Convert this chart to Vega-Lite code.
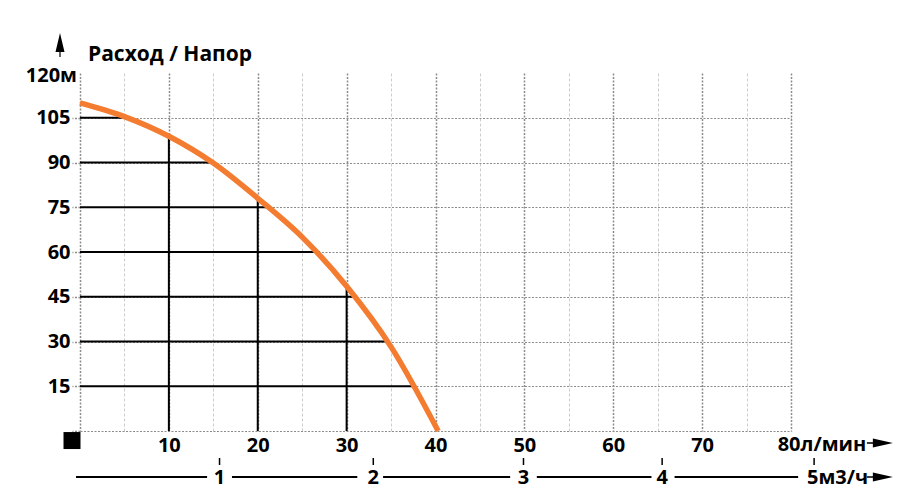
{
  "$schema": "https://vega.github.io/schema/vega-lite/v6.json",
  "width": 711,
  "height": 358,
  "autosize": {"type": "none"},
  "padding": {"left": 80, "top": 73, "right": 124, "bottom": 70},
  "background": "white",
  "config": {"view": {"stroke": null}, "font": "Open Sans"},
  "datasets": {
    "curve": [
      {"x": 0, "y": 110}, {"x": 5, "y": 105.4}, {"x": 10, "y": 98.8}, {"x": 15, "y": 89.8},
      {"x": 20, "y": 78}, {"x": 25, "y": 65}, {"x": 30, "y": 48.5}, {"x": 35, "y": 28.2}, {"x": 40.3, "y": 0}
    ],
    "hrules": [
      {"x": 0, "x2": 5.2, "y": 105}, {"x": 0, "x2": 14.7, "y": 90}, {"x": 0, "x2": 21, "y": 75},
      {"x": 0, "x2": 27, "y": 60}, {"x": 0, "x2": 31, "y": 45}, {"x": 0, "x2": 34.5, "y": 30},
      {"x": 0, "x2": 37.8, "y": 15}
    ],
    "vrules": [
      {"x": 10, "y": 0, "y2": 98.8}, {"x": 20, "y": 0, "y2": 77.5}, {"x": 30, "y": 0, "y2": 48.5}
    ],
    "m3segments": [
      {"x": -0.45, "x2": 14.3, "y": -15.4}, {"x": 17.1, "x2": 31.2, "y": -15.4},
      {"x": 34.1, "x2": 48.4, "y": -15.4}, {"x": 51.4, "x2": 64.3, "y": -15.4},
      {"x": 66.9, "x2": 80.8, "y": -15.4}
    ],
    "m3ticks": [
      {"x": 15.7, "y": -9.05, "y2": -11.4}, {"x": 33.0, "y": -9.05, "y2": -11.4},
      {"x": 49.9, "y": -9.05, "y2": -11.4}, {"x": 65.5, "y": -9.05, "y2": -11.4},
      {"x": 82.6, "y": -9.05, "y2": -11.4}
    ],
    "m3labels": [
      {"x": 15.7, "y": -17.8, "label": "1"}, {"x": 33.0, "y": -17.8, "label": "2"},
      {"x": 49.9, "y": -17.8, "label": "3"}, {"x": 65.5, "y": -17.8, "label": "4"}
    ],
    "leftnotes": [
      {"x": 78.5, "y": -6.7, "label": "80л/мин"},
      {"x": 81.8, "y": -17.8, "label": "5м3/ч"}
    ],
    "ylabeltop": [{"x": -0.34, "y": 117.0, "label": "120м"}],
    "title": [{"x": 0.9, "y": 124.0, "label": "Расход / Напор"}],
    "origin": [{"x": -0.9, "y": -3.2}],
    "uparrow": [{"x": -2.25, "y": 129.4}],
    "rightarrows": [{"x": 90.0, "y": -4.0}, {"x": 90.0, "y": -15.4}]
  },
  "encoding": {
    "x": {
      "field": "x", "type": "quantitative",
      "scale": {"domain": [0, 80], "nice": false, "zero": false},
      "axis": {
        "values": [0, 5, 10, 15, 20, 25, 30, 35, 40, 45, 50, 55, 60, 65, 70, 75, 80],
        "title": null, "domain": false, "ticks": false, "grid": true,
        "gridColor": {"condition": {"test": "datum.value % 10 === 0", "value": "#8c8c8c"}, "value": "#cccccc"},
        "gridDash": {"condition": {"test": "datum.value % 10 === 0", "value": [2, 1.5]}, "value": [3, 2]},
        "gridWidth": {"condition": {"test": "datum.value % 10 === 0", "value": 1.5}, "value": 1},
        "labelExpr": "datum.value % 10 === 0 && datum.value > 0 && datum.value < 80 ? datum.label : ''",
        "labelFont": "Open Sans", "labelFontSize": 20, "labelFontWeight": "bold", "labelColor": "black",
        "labelPadding": 4, "labelFlush": false, "labelOverlap": false
      }
    },
    "y": {
      "field": "y", "type": "quantitative",
      "scale": {"domain": [0, 120], "nice": false, "zero": false},
      "axis": {
        "values": [0, 15, 30, 45, 60, 75, 90, 105],
        "title": null, "domain": false, "ticks": true, "tickSize": 8, "tickColor": "#8c8c8c",
        "tickDash": [2, 1.5], "tickWidth": 1.5,
        "grid": true, "gridColor": "#8c8c8c", "gridDash": [2, 1.5], "gridWidth": 1.2,
        "labelExpr": "datum.value > 0 ? datum.label : ''",
        "labelFont": "Open Sans", "labelFontSize": 20, "labelFontWeight": "bold", "labelColor": "black",
        "labelPadding": 2, "labelFlush": false, "labelOverlap": false
      }
    }
  },
  "layer": [
    {"data": {"name": "hrules"}, "mark": {"type": "rule", "color": "black", "strokeWidth": 2}, "encoding": {"x2": {"field": "x2"}}},
    {"data": {"name": "vrules"}, "mark": {"type": "rule", "color": "black", "strokeWidth": 2}, "encoding": {"y2": {"field": "y2"}}},
    {"data": {"name": "curve"}, "mark": {"type": "line", "color": "#f47c30", "strokeWidth": 5.5, "interpolate": "monotone", "strokeCap": "butt"}, "encoding": {}},
    {"data": {"name": "m3segments"}, "mark": {"type": "rule", "color": "black", "strokeWidth": 2}, "encoding": {"x2": {"field": "x2"}}},
    {"data": {"name": "m3ticks"}, "mark": {"type": "rule", "color": "black", "strokeWidth": 1.5}, "encoding": {"y2": {"field": "y2"}}},
    {"data": {"name": "m3labels"}, "mark": {"type": "text", "font": "Open Sans", "fontSize": 20, "fontWeight": "bold", "color": "black", "align": "center", "baseline": "alphabetic"}, "encoding": {"text": {"field": "label"}}},
    {"data": {"name": "leftnotes"}, "mark": {"type": "text", "font": "Open Sans", "fontSize": 20, "fontWeight": "bold", "color": "black", "align": "left", "baseline": "alphabetic"}, "encoding": {"text": {"field": "label"}}},
    {"data": {"name": "ylabeltop"}, "mark": {"type": "text", "font": "Open Sans", "fontSize": 20, "fontWeight": "bold", "color": "black", "align": "right", "baseline": "alphabetic"}, "encoding": {"text": {"field": "label"}}},
    {"data": {"name": "title"}, "mark": {"type": "text", "font": "Open Sans", "fontSize": 21, "fontWeight": "bold", "color": "black", "align": "left", "baseline": "alphabetic"}, "encoding": {"text": {"field": "label"}}},
    {"data": {"name": "origin"}, "mark": {"type": "point", "shape": "square", "size": 289, "filled": true, "color": "black", "opacity": 1}, "encoding": {}},
    {"data": {"name": "uparrow"}, "mark": {"type": "point", "shape": "M0,-1L0.375,0.58L0.05,0.58L0.05,1L-0.05,1L-0.05,0.58L-0.375,0.58Z", "size": 576, "filled": true, "color": "black", "opacity": 1}, "encoding": {}},
    {"data": {"name": "rightarrows"}, "mark": {"type": "point", "shape": "M1,0L-0.54,0.35L-0.54,0.06L-1,0.06L-1,-0.06L-0.54,-0.06L-0.54,-0.35Z", "size": 676, "filled": true, "color": "black", "opacity": 1}, "encoding": {}}
  ]
}
